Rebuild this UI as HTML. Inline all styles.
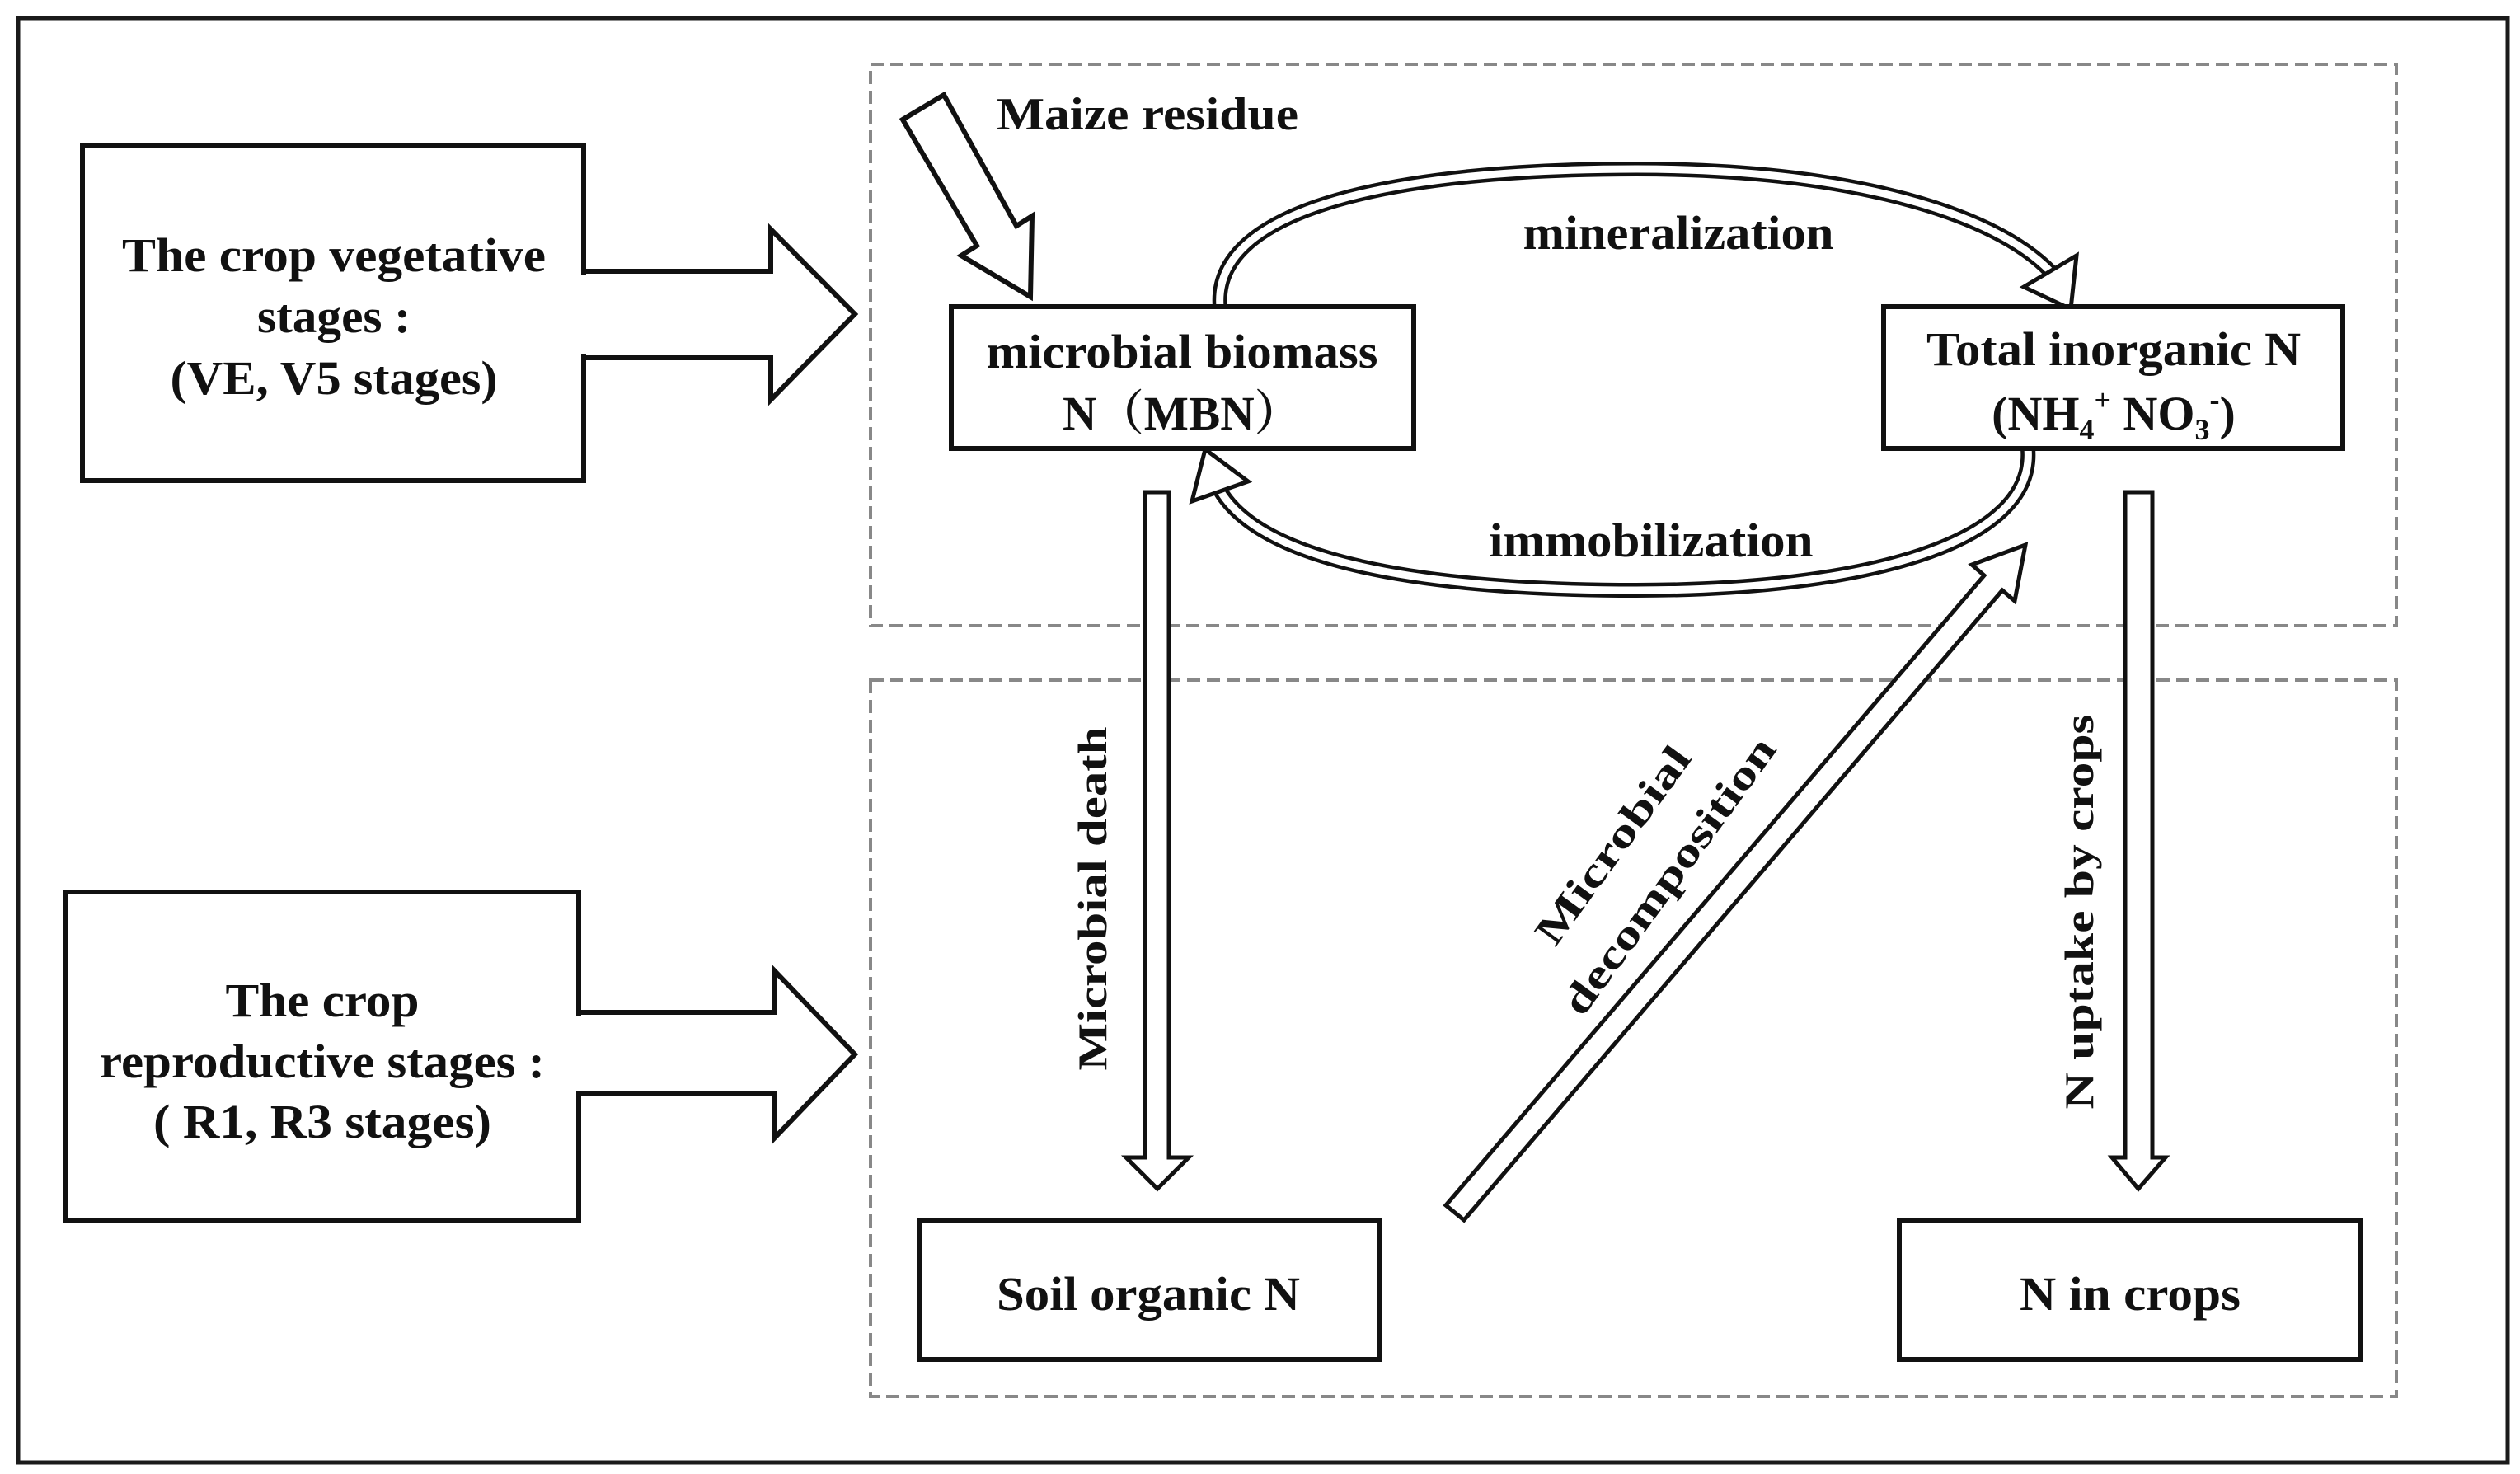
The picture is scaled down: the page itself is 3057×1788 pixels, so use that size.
<!DOCTYPE html>
<html><head><meta charset="utf-8"><style>html,body{margin:0;padding:0;background:#fff}svg{display:block}</style></head>
<body>
<svg width="3057" height="1788" viewBox="0 0 3057 1788" xmlns="http://www.w3.org/2000/svg" font-family="Liberation Serif, serif" font-weight="bold" fill="#111">
<rect x="22" y="22" width="3020" height="1752" fill="none" stroke="#1a1a1a" stroke-width="5"/>
<rect x="1056" y="78" width="1851" height="681" fill="none" stroke="#888" stroke-width="4" stroke-dasharray="16 8"/>
<rect x="1056" y="825" width="1851" height="869" fill="none" stroke="#888" stroke-width="4" stroke-dasharray="16 8"/>

<rect x="100" y="176" width="608" height="407" fill="none" stroke="#111" stroke-width="6"/>
<rect x="700" y="333" width="16" height="97" fill="#fff"/>
<polyline points="708,329 935,329 935,278 1037,381 935,485 935,434 708,434" fill="none" stroke="#111" stroke-width="6"/>
<rect x="80" y="1082" width="622" height="399" fill="none" stroke="#111" stroke-width="6"/>
<rect x="694" y="1232" width="16" height="91" fill="#fff"/>
<polyline points="702,1228 939,1228 939,1177 1037,1279 939,1381 939,1327 702,1327" fill="none" stroke="#111" stroke-width="6"/>

<g font-size="58" text-anchor="middle">
<text x="405" y="329" textLength="514" lengthAdjust="spacingAndGlyphs">The crop vegetative</text>
<text x="405" y="403" textLength="186" lengthAdjust="spacingAndGlyphs">stages :</text>
<text x="405" y="478" textLength="397" lengthAdjust="spacingAndGlyphs">(VE, V5 stages)</text>
<text x="391" y="1233" textLength="235" lengthAdjust="spacingAndGlyphs">The crop</text>
<text x="391" y="1307" textLength="540" lengthAdjust="spacingAndGlyphs">reproductive stages :</text>
<text x="391" y="1380" textLength="410" lengthAdjust="spacingAndGlyphs">( R1, R3 stages)</text>
</g>

<polygon points="1095,145 1145,115 1233,274 1252,262 1250,360 1166,310 1185,298" fill="#fff" stroke="#111" stroke-width="6"/>
<text x="1209" y="157" font-size="56" textLength="366" lengthAdjust="spacingAndGlyphs">Maize residue</text>

<path d="M1480 372 C1470 250 1700 205 1985 205 C2250 205 2420 260 2487 329" fill="none" stroke="#111" stroke-width="18"/>
<path d="M1480 372 C1470 250 1700 205 1985 205 C2250 205 2420 260 2487 329" fill="none" stroke="#fff" stroke-width="9"/>
<polygon points="2455,348 2519,310 2512,375" fill="#fff" stroke="#111" stroke-width="5"/>
<path d="M2460 544 C2470 660 2260 716 1985 716 C1720 716 1530 680 1480 595" fill="none" stroke="#111" stroke-width="18"/>
<path d="M2460 544 C2470 660 2260 716 1985 716 C1720 716 1530 680 1480 595" fill="none" stroke="#fff" stroke-width="9"/>
<polygon points="1514,584 1446,608 1462,545" fill="#fff" stroke="#111" stroke-width="5"/>

<rect x="1154" y="372" width="561" height="172" fill="#fff" stroke="#111" stroke-width="6"/>
<rect x="2285" y="372" width="557" height="172" fill="#fff" stroke="#111" stroke-width="6"/>
<rect x="1115" y="1481" width="559" height="168" fill="#fff" stroke="#111" stroke-width="6"/>
<rect x="2304" y="1481" width="560" height="168" fill="#fff" stroke="#111" stroke-width="6"/>

<g font-size="58" text-anchor="middle">
<text x="2036" y="302" textLength="377" lengthAdjust="spacingAndGlyphs">mineralization</text>
<text x="2003" y="675" textLength="393" lengthAdjust="spacingAndGlyphs">immobilization</text>
<text x="1434" y="446" textLength="475" lengthAdjust="spacingAndGlyphs">microbial biomass</text>
<text x="1434" y="521" font-family="Liberation Serif, Noto Serif CJK SC, serif" textLength="290" lengthAdjust="spacingAndGlyphs">N（MBN）</text>
<text x="2564" y="443" textLength="454" lengthAdjust="spacingAndGlyphs">Total inorganic N</text>
<text x="2564" y="521">(NH<tspan font-size="36" dy="12">4</tspan><tspan font-size="36" dy="-36">+</tspan><tspan dy="24"> NO</tspan><tspan font-size="36" dy="12">3</tspan><tspan font-size="36" dy="-36">-</tspan><tspan dy="24">)</tspan></text>
<text x="1393" y="1589" textLength="368" lengthAdjust="spacingAndGlyphs">Soil organic N</text>
<text x="2584" y="1589" textLength="268" lengthAdjust="spacingAndGlyphs">N in crops</text>
</g>

<polygon points="1389,597 1418,597 1418,1404 1442,1404 1404,1442 1366,1404 1389,1404" fill="#fff" stroke="#111" stroke-width="5"/>
<polygon points="2578,597 2611,597 2611,1404 2627,1404 2594,1442 2562,1404 2578,1404" fill="#fff" stroke="#111" stroke-width="5"/>
<polygon points="1754,1462 2407,698 2392,685 2457,661 2444,729 2429,716 1776,1480" fill="#fff" stroke="#111" stroke-width="5"/>

<g font-size="50" text-anchor="middle">
<text transform="translate(1342,1090) rotate(-90)" textLength="417" lengthAdjust="spacingAndGlyphs">Microbial death</text>
<text transform="translate(2539,1106) rotate(-90)" textLength="479" lengthAdjust="spacingAndGlyphs">N uptake by crops</text>
<text transform="translate(1970,1035) rotate(-54)" textLength="284" lengthAdjust="spacingAndGlyphs">Microbial</text>
<text transform="translate(2038,1072) rotate(-54)" textLength="403" lengthAdjust="spacingAndGlyphs">decomposition</text>
</g>
</svg>
</body></html>
